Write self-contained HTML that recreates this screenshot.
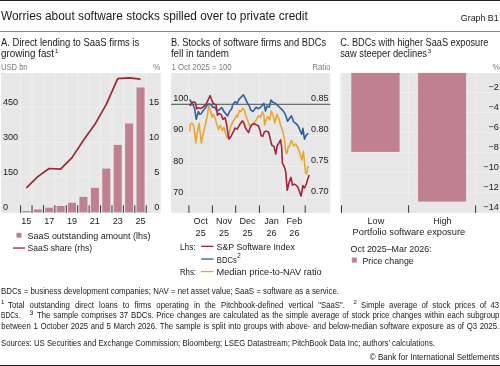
<!DOCTYPE html>
<html><head><meta charset="utf-8"><style>
html,body{margin:0;padding:0;background:#fff;width:500px;height:366px;overflow:hidden}
svg{display:block;font-family:"Liberation Sans",sans-serif;will-change:transform}
</style></head><body>
<svg width="500" height="366" viewBox="0 0 500 366" font-family="Liberation Sans, sans-serif"><defs><clipPath id="clipB"><rect x="171" y="73" width="159.3" height="139.8"/></clipPath></defs>
<rect x="0" y="0" width="500" height="1" fill="#222"/>
<rect x="0" y="31" width="500" height="1" fill="#8a8a8a"/>
<rect x="0" y="365" width="500" height="1" fill="#222"/>
<text x="1" y="19.8" font-size="11.9" fill="#1a1a1a" textLength="306.8" lengthAdjust="spacingAndGlyphs">Worries about software stocks spilled over to private credit</text>
<text x="460.8" y="20.7" font-size="9.6" fill="#1a1a1a" textLength="37.9" lengthAdjust="spacingAndGlyphs">Graph B1</text>
<text x="1" y="45.7" font-size="10.0" fill="#1a1a1a" textLength="138.2" lengthAdjust="spacingAndGlyphs">A. Direct lending to SaaS firms is</text>
<text x="1" y="56.6" font-size="10.0" fill="#1a1a1a" textLength="53" lengthAdjust="spacingAndGlyphs">growing fast</text>
<text x="55.0" y="53.0" font-size="6.0" fill="#1a1a1a">1</text>
<text x="170.9" y="45.7" font-size="10.0" fill="#1a1a1a" textLength="155.2" lengthAdjust="spacingAndGlyphs">B. Stocks of software firms and BDCs</text>
<text x="170.9" y="56.6" font-size="10.0" fill="#1a1a1a" textLength="58.1" lengthAdjust="spacingAndGlyphs">fell in tandem</text>
<text x="340.2" y="45.7" font-size="10.0" fill="#1a1a1a" textLength="148.2" lengthAdjust="spacingAndGlyphs">C. BDCs with higher SaaS exposure</text>
<text x="340.2" y="56.6" font-size="10.0" fill="#1a1a1a" textLength="86.8" lengthAdjust="spacingAndGlyphs">saw steeper declines</text>
<text x="427.8" y="52.8" font-size="6.2" fill="#1a1a1a">3</text>
<text x="1" y="70" font-size="8.3" fill="#7a7a7a" textLength="26.6" lengthAdjust="spacingAndGlyphs">USD bn</text>
<text x="160.5" y="69.8" font-size="8.3" fill="#7a7a7a" text-anchor="end">%</text>
<text x="171.5" y="69.6" font-size="8.3" fill="#7a7a7a" textLength="60.2" lengthAdjust="spacingAndGlyphs">1 Oct 2025 = 100</text>
<text x="312.6" y="70.2" font-size="8.3" fill="#7a7a7a" textLength="17.8" lengthAdjust="spacingAndGlyphs">Ratio</text>
<text x="500" y="69.8" font-size="8.3" fill="#7a7a7a" text-anchor="end">%</text>
<rect x="1" y="73" width="159.7" height="139.8" fill="#e7e7e7"/>
<rect x="1" y="176.83333333333334" width="159.7" height="1" fill="#efefef"/>
<rect x="1" y="141.86666666666667" width="159.7" height="1" fill="#efefef"/>
<rect x="1" y="106.9" width="159.7" height="1" fill="#efefef"/>
<rect x="20.1" y="73" width="1" height="139.8" fill="#efefef"/>
<rect x="31.520000000000003" y="73" width="1" height="139.8" fill="#efefef"/>
<rect x="42.94" y="73" width="1" height="139.8" fill="#efefef"/>
<rect x="54.36" y="73" width="1" height="139.8" fill="#efefef"/>
<rect x="65.78" y="73" width="1" height="139.8" fill="#efefef"/>
<rect x="77.2" y="73" width="1" height="139.8" fill="#efefef"/>
<rect x="88.62" y="73" width="1" height="139.8" fill="#efefef"/>
<rect x="100.03999999999999" y="73" width="1" height="139.8" fill="#efefef"/>
<rect x="111.46000000000001" y="73" width="1" height="139.8" fill="#efefef"/>
<rect x="122.88" y="73" width="1" height="139.8" fill="#efefef"/>
<rect x="134.3" y="73" width="1" height="139.8" fill="#efefef"/>
<rect x="145.72" y="73" width="1" height="139.8" fill="#efefef"/>
<rect x="22.35" y="211.1" width="8" height="1.2" fill="#c08090"/>
<rect x="33.77" y="209.5" width="8" height="2.8" fill="#c08090"/>
<rect x="45.19" y="207.7" width="8" height="4.6" fill="#c08090"/>
<rect x="56.61" y="206" width="8" height="6.3" fill="#c08090"/>
<rect x="68.03" y="202.8" width="8" height="9.5" fill="#c08090"/>
<rect x="79.45" y="196.9" width="8" height="15.4" fill="#c08090"/>
<rect x="90.87" y="187.8" width="8" height="24.5" fill="#c08090"/>
<rect x="102.29" y="168.6" width="8" height="43.7" fill="#c08090"/>
<rect x="113.71" y="144.9" width="8" height="67.4" fill="#c08090"/>
<rect x="125.13" y="123.5" width="8" height="88.8" fill="#c08090"/>
<rect x="136.55" y="87.5" width="8" height="124.8" fill="#c08090"/>
<rect x="20.1" y="205.2" width="1" height="7.6" fill="#333"/>
<rect x="31.520000000000003" y="205.2" width="1" height="7.6" fill="#333"/>
<rect x="42.94" y="205.2" width="1" height="7.6" fill="#333"/>
<rect x="54.36" y="205.2" width="1" height="7.6" fill="#333"/>
<rect x="65.78" y="205.2" width="1" height="7.6" fill="#333"/>
<rect x="77.2" y="205.2" width="1" height="7.6" fill="#333"/>
<rect x="88.62" y="205.2" width="1" height="7.6" fill="#333"/>
<rect x="100.03999999999999" y="205.2" width="1" height="7.6" fill="#333"/>
<rect x="111.46000000000001" y="205.2" width="1" height="7.6" fill="#333"/>
<rect x="122.88" y="205.2" width="1" height="7.6" fill="#333"/>
<rect x="134.3" y="205.2" width="1" height="7.6" fill="#333"/>
<rect x="145.72" y="205.2" width="1" height="7.6" fill="#333"/>
<text x="3" y="209.7" font-size="9.1" fill="#1a1a1a">0</text>
<text x="3" y="174.73" font-size="9.1" fill="#1a1a1a">150</text>
<text x="3" y="139.77" font-size="9.1" fill="#1a1a1a">300</text>
<text x="3" y="104.8" font-size="9.1" fill="#1a1a1a">450</text>
<text x="159.2" y="209.7" font-size="9.1" fill="#1a1a1a" text-anchor="end">0</text>
<text x="159.2" y="174.73" font-size="9.1" fill="#1a1a1a" text-anchor="end">5</text>
<text x="159.2" y="139.77" font-size="9.1" fill="#1a1a1a" text-anchor="end">10</text>
<text x="159.2" y="104.8" font-size="9.1" fill="#1a1a1a" text-anchor="end">15</text>
<text x="26.35" y="224.3" font-size="9.1" fill="#1a1a1a" text-anchor="middle">15</text>
<text x="49.19" y="224.3" font-size="9.1" fill="#1a1a1a" text-anchor="middle">17</text>
<text x="72.03" y="224.3" font-size="9.1" fill="#1a1a1a" text-anchor="middle">19</text>
<text x="94.87" y="224.3" font-size="9.1" fill="#1a1a1a" text-anchor="middle">21</text>
<text x="117.71" y="224.3" font-size="9.1" fill="#1a1a1a" text-anchor="middle">23</text>
<text x="140.55" y="224.3" font-size="9.1" fill="#1a1a1a" text-anchor="middle">25</text>
<polyline fill="none" stroke="#972a32" stroke-width="1.7" stroke-linejoin="round" points="26.35,187.9 37.77,176.6 49.19,168.5 60.61,169.1 72.03,157.6 83.45,140.2 94.87,124.3 106.29,104.3 117.71,78.6 129.13,77.9 140.55,79.2"/>
<rect x="16.5" y="232.8" width="4.9" height="4.9" fill="#c08090"/>
<text x="27.5" y="238.9" font-size="9.3" fill="#1a1a1a" textLength="122.9" lengthAdjust="spacingAndGlyphs">SaaS outstanding amount (lhs)</text>
<rect x="13" y="247.4" width="12" height="1.3" fill="#972a32"/>
<text x="27.5" y="251.3" font-size="9.3" fill="#1a1a1a" textLength="64.5" lengthAdjust="spacingAndGlyphs">SaaS share (rhs)</text>
<rect x="171" y="73" width="159.3" height="139.8" fill="#e7e7e7"/>
<rect x="171" y="197.2" width="159.3" height="1" fill="#efefef"/>
<rect x="171" y="166.06666666666666" width="159.3" height="1" fill="#efefef"/>
<rect x="171" y="134.93333333333334" width="159.3" height="1" fill="#efefef"/>
<rect x="188.4" y="73" width="1" height="139.8" fill="#efefef"/>
<rect x="211.9" y="73" width="1" height="139.8" fill="#efefef"/>
<rect x="235.2" y="73" width="1" height="139.8" fill="#efefef"/>
<rect x="258.9" y="73" width="1" height="139.8" fill="#efefef"/>
<rect x="283.1" y="73" width="1" height="139.8" fill="#efefef"/>
<rect x="304.7" y="73" width="1" height="139.8" fill="#efefef"/>
<rect x="171" y="103.8" width="159.3" height="1" fill="#505050"/>
<rect x="188.4" y="205.2" width="1" height="7.6" fill="#333"/>
<rect x="211.9" y="205.2" width="1" height="7.6" fill="#333"/>
<rect x="235.2" y="205.2" width="1" height="7.6" fill="#333"/>
<rect x="258.9" y="205.2" width="1" height="7.6" fill="#333"/>
<rect x="283.1" y="205.2" width="1" height="7.6" fill="#333"/>
<rect x="304.7" y="205.2" width="1" height="7.6" fill="#333"/>
<text x="173.2" y="194.7" font-size="9.1" fill="#1a1a1a">70</text>
<text x="173.2" y="163.57" font-size="9.1" fill="#1a1a1a">80</text>
<text x="173.2" y="132.43" font-size="9.1" fill="#1a1a1a">90</text>
<text x="173.2" y="101.3" font-size="9.1" fill="#1a1a1a">100</text>
<text x="328.6" y="194.4" font-size="9.1" fill="#1a1a1a" text-anchor="end">0.70</text>
<text x="328.6" y="163.27" font-size="9.1" fill="#1a1a1a" text-anchor="end">0.75</text>
<text x="328.6" y="132.13" font-size="9.1" fill="#1a1a1a" text-anchor="end">0.80</text>
<text x="328.6" y="101.0" font-size="9.1" fill="#1a1a1a" text-anchor="end">0.85</text>
<text x="200.65" y="224.3" font-size="9.1" fill="#1a1a1a" text-anchor="middle">Oct</text>
<text x="200.65" y="235.8" font-size="9.1" fill="#1a1a1a" text-anchor="middle">25</text>
<text x="224.05" y="224.3" font-size="9.1" fill="#1a1a1a" text-anchor="middle">Nov</text>
<text x="224.05" y="235.8" font-size="9.1" fill="#1a1a1a" text-anchor="middle">25</text>
<text x="247.55" y="224.3" font-size="9.1" fill="#1a1a1a" text-anchor="middle">Dec</text>
<text x="247.55" y="235.8" font-size="9.1" fill="#1a1a1a" text-anchor="middle">25</text>
<text x="271.5" y="224.3" font-size="9.1" fill="#1a1a1a" text-anchor="middle">Jan</text>
<text x="271.5" y="235.8" font-size="9.1" fill="#1a1a1a" text-anchor="middle">26</text>
<text x="294.4" y="224.3" font-size="9.1" fill="#1a1a1a" text-anchor="middle">Feb</text>
<text x="294.4" y="235.8" font-size="9.1" fill="#1a1a1a" text-anchor="middle">26</text>
<g clip-path="url(#clipB)">
<polyline fill="none" stroke="#e9a633" stroke-width="1.6" stroke-linejoin="round" points="189.8,131.4 190.4,123.7 192.0,123.2 193.7,125.9 195.8,142.9 197.5,131.4 199.1,123.2 201.3,142.9 203.5,132.5 205.1,125.9 207.3,116.0 208.8,105.5 210.9,112.0 212.0,117.5 213.1,114.2 214.7,116.4 216.6,123.5 218.6,129.5 220.4,125.3 222.4,130.5 224.0,127.5 225.7,134.0 227.3,137.9 229.0,134.0 230.0,129.1 231.7,124.2 233.3,120.9 235.0,118.2 236.6,115.5 237.5,117.0 239.3,110.5 241.0,111.5 242.6,108.2 244.3,109.9 245.3,114.2 247.5,119.7 249.4,125.5 251.3,125.3 253.5,123.0 255.7,120.9 258.4,116.4 259.5,115.5 260.6,117.5 262.5,111.8 263.9,115.3 264.6,125.0 266.0,120.0 267.7,116.5 269.9,119.7 271.3,111.0 273.1,115.3 274.8,123.0 277.0,114.2 279.2,119.7 280.5,125.0 282.7,131.0 284.3,139.2 285.9,152.5 287.0,153.3 288.2,146.4 289.2,146.9 291.4,140.3 293.6,145.8 295.8,144.1 298.0,148.0 299.5,152.0 301.8,160.0 303.4,151.2 305.6,173.0 306.7,174.0 307.8,166.4 308.9,167.5"/>
<polyline fill="none" stroke="#30609c" stroke-width="1.6" stroke-linejoin="round" points="189.7,99.4 191.5,102.5 193.0,104.8 194.6,108.5 196.2,119.2 198.3,111.6 199.8,114.3 201.2,113.6 203.2,110.5 205.7,107.6 207.3,104.8 209.0,104.0 210.6,104.3 213.0,107.6 214.7,107.1 216.9,111.0 219.1,109.9 221.8,107.7 224.0,111.5 226.2,114.2 227.6,116.0 229.5,111.5 231.7,108.8 232.8,104.4 235.0,101.7 237.1,103.3 239.3,98.9 241.0,97.3 243.4,94.8 245.3,98.4 247.5,103.3 249.1,105.5 250.7,109.9 252.9,111.5 254.6,109.3 256.2,107.1 257.8,108.8 260.0,107.7 262.2,105.5 263.9,103.3 265.5,111.0 267.1,106.0 269.3,107.1 271.0,100.0 272.6,102.2 274.8,102.8 276.4,104.4 278.8,106.5 281.0,108.7 283.2,110.8 285.4,114.7 287.6,121.2 289.8,118.0 291.4,115.8 293.6,121.8 295.8,123.4 298.0,125.6 299.6,129.4 301.8,134.3 302.9,128.3 304.5,139.2 306.1,135.4 308.3,133.2"/>
<polyline fill="none" stroke="#a2253b" stroke-width="1.6" stroke-linejoin="round" points="189.3,104.0 190.5,105.5 191.7,102.7 193.8,101.9 195.4,102.7 196.7,108.9 198.3,107.6 199.9,108.4 201.6,108.0 204.0,106.4 206.5,103.5 208.1,99.8 210.2,95.7 211.4,99.0 213.0,103.1 214.6,104.2 216.0,104.5 217.5,115.3 219.1,113.3 221.3,114.9 222.9,119.3 225.1,117.7 226.8,125.3 227.9,133.0 229.0,139.0 231.1,136.2 233.3,131.9 235.0,128.0 237.1,129.1 239.3,125.3 241.0,122.6 242.6,120.9 244.3,124.2 245.3,127.5 246.9,130.2 248.6,132.4 250.2,127.5 251.8,124.8 254.0,123.7 256.2,124.8 258.4,125.8 260.0,130.2 261.1,135.7 262.8,136.2 264.3,132.0 266.4,131.1 268.6,132.2 270.2,138.7 271.8,145.3 274.0,146.4 275.7,154.0 277.3,145.3 278.9,143.1 280.6,139.8 281.6,146.9 282.4,163.0 284.6,167.6 285.7,171.7 287.2,190.3 289.1,182.2 291.0,177.4 292.4,185.1 294.3,184.1 296.7,185.6 298.2,187.9 301.0,196.1 302.9,185.6 304.4,188.0 306.3,184.1 307.7,179.3 309.2,175.0"/>
</g>
<text x="180" y="249.8" font-size="9.3" fill="#1a1a1a" textLength="15.6" lengthAdjust="spacingAndGlyphs">Lhs:</text>
<rect x="201.2" y="245.7" width="12.3" height="1.3" fill="#a2253b"/>
<text x="216.6" y="249.9" font-size="9.3" fill="#1a1a1a" textLength="78.3" lengthAdjust="spacingAndGlyphs">S&amp;P Software Index</text>
<rect x="201.2" y="258.4" width="12.3" height="1.3" fill="#30609c"/>
<text x="216.8" y="262.6" font-size="9.3" fill="#1a1a1a" textLength="20" lengthAdjust="spacingAndGlyphs">BDCs</text>
<text x="237.3" y="258.3" font-size="6.3" fill="#1a1a1a">2</text>
<text x="180" y="274.7" font-size="9.3" fill="#1a1a1a" textLength="16" lengthAdjust="spacingAndGlyphs">Rhs:</text>
<rect x="201.2" y="270.9" width="12.3" height="1.3" fill="#e9a633"/>
<text x="216.6" y="274.9" font-size="9.3" fill="#1a1a1a" textLength="105" lengthAdjust="spacingAndGlyphs">Median price-to-NAV ratio</text>
<rect x="340.2" y="73" width="159.8" height="139.8" fill="#e7e7e7"/>
<rect x="340.5" y="92.02" width="159.5" height="1" fill="#efefef"/>
<rect x="340.5" y="111.94" width="159.5" height="1" fill="#efefef"/>
<rect x="340.5" y="131.86" width="159.5" height="1" fill="#efefef"/>
<rect x="340.5" y="151.78" width="159.5" height="1" fill="#efefef"/>
<rect x="340.5" y="171.7" width="159.5" height="1" fill="#efefef"/>
<rect x="340.5" y="191.62" width="159.5" height="1" fill="#efefef"/>
<rect x="341.0" y="73" width="1" height="139.8" fill="#efefef"/>
<rect x="408.1" y="73" width="1" height="139.8" fill="#efefef"/>
<rect x="475.1" y="73" width="1" height="139.8" fill="#efefef"/>
<rect x="351.3" y="72.9" width="48.3" height="79.0" fill="#c08090"/>
<rect x="418.1" y="72.9" width="48" height="128.7" fill="#c08090"/>
<rect x="341.0" y="205.2" width="1" height="7.6" fill="#333"/>
<rect x="408.1" y="205.2" width="1" height="7.6" fill="#333"/>
<rect x="475.1" y="205.2" width="1" height="7.6" fill="#333"/>
<text x="498.8" y="90.22" font-size="9.1" fill="#1a1a1a" text-anchor="end">−2</text>
<text x="498.8" y="110.14" font-size="9.1" fill="#1a1a1a" text-anchor="end">−4</text>
<text x="498.8" y="130.06" font-size="9.1" fill="#1a1a1a" text-anchor="end">−6</text>
<text x="498.8" y="149.98" font-size="9.1" fill="#1a1a1a" text-anchor="end">−8</text>
<text x="498.8" y="169.9" font-size="9.1" fill="#1a1a1a" text-anchor="end">−10</text>
<text x="498.8" y="189.82" font-size="9.1" fill="#1a1a1a" text-anchor="end">−12</text>
<text x="498.8" y="209.74" font-size="9.1" fill="#1a1a1a" text-anchor="end">−14</text>
<text x="367.5" y="224" font-size="9.3" fill="#1a1a1a" textLength="16.8" lengthAdjust="spacingAndGlyphs">Low</text>
<text x="433.3" y="224" font-size="9.3" fill="#1a1a1a" textLength="18.2" lengthAdjust="spacingAndGlyphs">High</text>
<text x="352.6" y="235.2" font-size="9.3" fill="#1a1a1a" textLength="112.6" lengthAdjust="spacingAndGlyphs">Portfolio software exposure</text>
<text x="350.6" y="251.5" font-size="9.3" fill="#1a1a1a" textLength="81" lengthAdjust="spacingAndGlyphs">Oct 2025–Mar 2026:</text>
<rect x="351.8" y="257.6" width="5" height="5" fill="#c08090"/>
<text x="362.4" y="263.9" font-size="9.3" fill="#1a1a1a" textLength="51.3" lengthAdjust="spacingAndGlyphs">Price change</text>
<text x="1" y="293.9" font-size="8.2" fill="#1a1a1a" textLength="338" lengthAdjust="spacingAndGlyphs">BDCs = business development companies; NAV = net asset value; SaaS = software as a service.</text>
<text x="1" y="304.4" font-size="6" fill="#1a1a1a">1</text>
<text x="8" y="307.8" font-size="8.2" fill="#1a1a1a" word-spacing="3.086" textLength="337" lengthAdjust="spacingAndGlyphs">Total outstanding direct loans to firms operating in the Pitchbook-defined vertical &quot;SaaS&quot;.</text>
<text x="353.4" y="304.4" font-size="6" fill="#1a1a1a">2</text>
<text x="361" y="307.8" font-size="8.2" fill="#1a1a1a" word-spacing="2.216" textLength="138.2" lengthAdjust="spacingAndGlyphs">Simple average of stock prices of 43</text>
<text x="1" y="318.3" font-size="8.2" fill="#1a1a1a" textLength="19" lengthAdjust="spacingAndGlyphs">BDCs.</text>
<text x="29.8" y="314.9" font-size="6.4" fill="#1a1a1a" text-rendering="geometricPrecision">3</text>
<text x="37" y="318.3" font-size="8.2" fill="#1a1a1a" word-spacing="0.693" textLength="462.4" lengthAdjust="spacingAndGlyphs">The sample comprises 37 BDCs. Price changes are calculated as the simple average of stock price changes within each subgroup</text>
<text x="1.3" y="328.9" font-size="8.2" fill="#1a1a1a" word-spacing="0.517" textLength="497.9" lengthAdjust="spacingAndGlyphs">between 1 October 2025 and 5 March 2026. The sample is split into groups with above- and below-median software exposure as of Q3 2025.</text>
<text x="1" y="346.4" font-size="8.2" fill="#1a1a1a" textLength="434" lengthAdjust="spacingAndGlyphs">Sources: US Securities and Exchange Commission; Bloomberg; LSEG Datastream; PitchBook Data Inc; authors’ calculations.</text>
<text x="369.8" y="359.9" font-size="8.2" fill="#1a1a1a" textLength="129.4" lengthAdjust="spacingAndGlyphs">© Bank for International Settlements</text></svg>
</body></html>
